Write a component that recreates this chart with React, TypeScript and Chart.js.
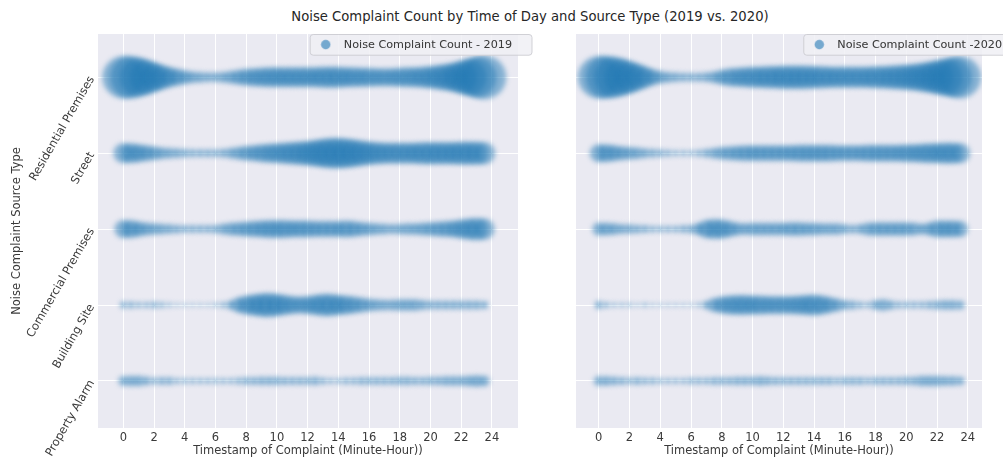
import React, { useEffect, useRef } from 'react';
import { Chart, registerables } from 'chart.js';

Chart.register(...registerables);

const TITLE = 'Noise Complaint Count by Time of Day and Source Type (2019 vs. 2020)';
const X_LABEL = 'Timestamp of Complaint (Minute-Hour))';
const Y_LABEL = 'Noise Complaint Source Type';
const LABEL_2019 = 'Noise Complaint Count - 2019';
const LABEL_2020 = 'Noise Complaint Count -2020';

const CATEGORIES = ['Residential Premises', 'Street', 'Commercial Premises', 'Building Site', 'Property Alarm'];
const X_TICKS = [0, 2, 4, 6, 8, 10, 12, 14, 16, 18, 20, 22, 24];
const HOURS = [
  0, 0.5, 1, 1.5, 2, 2.5, 3, 3.5, 4, 4.5, 5, 5.5, 6, 6.5, 7, 7.5,
  8, 8.5, 9, 9.5, 10, 10.5, 11, 11.5, 12, 12.5, 13, 13.5, 14, 14.5, 15, 15.5,
  16, 16.5, 17, 17.5, 18, 18.5, 19, 19.5, 20, 20.5, 21, 21.5, 22, 22.5, 23, 23.5,
];

// complaint counts per half hour (2019)
const RESIDENTIAL_2019 = [441, 441, 361, 289, 196, 144, 100, 72, 49, 36, 30, 25, 25, 30, 42, 56, 72, 81, 90, 100, 100, 100, 100, 100, 100, 100, 110, 110, 110, 100, 100, 90, 90, 81, 81, 81, 90, 100, 100, 110, 121, 144, 169, 196, 256, 324, 400, 484];
const STREET_2019 = [100, 100, 81, 64, 49, 36, 30, 25, 20, 16, 16, 16, 16, 20, 30, 42, 56, 64, 81, 90, 100, 110, 121, 132, 144, 169, 196, 225, 225, 210, 182, 156, 132, 121, 110, 110, 110, 110, 110, 121, 121, 121, 121, 121, 132, 132, 132, 121];
const COMMERCIAL_2019 = [81, 81, 56, 42, 36, 30, 25, 20, 16, 16, 16, 16, 20, 30, 42, 49, 56, 64, 72, 81, 81, 81, 72, 72, 72, 64, 64, 64, 64, 72, 64, 49, 42, 36, 30, 25, 30, 36, 36, 42, 49, 56, 64, 72, 90, 110, 121, 110];
const BUILDING_2019 = [12, 12, 9, 9, 12, 9, 6, 4, 4, 4, 4, 4, 6, 9, 20, 56, 90, 110, 132, 144, 121, 100, 81, 72, 81, 100, 121, 121, 100, 90, 72, 56, 42, 36, 30, 30, 36, 36, 36, 25, 20, 20, 20, 20, 20, 20, 20, 16];
const ALARM_2019 = [25, 30, 30, 20, 12, 16, 16, 9, 9, 9, 9, 9, 9, 9, 9, 12, 16, 16, 20, 20, 20, 16, 16, 16, 16, 20, 12, 9, 9, 12, 12, 16, 16, 16, 16, 16, 20, 20, 16, 16, 20, 20, 25, 25, 25, 30, 36, 30];

// complaint counts per half hour (2020)
const RESIDENTIAL_2020 = [441, 441, 400, 324, 240, 169, 110, 64, 42, 30, 25, 20, 20, 20, 25, 36, 56, 81, 90, 100, 110, 110, 121, 121, 132, 132, 132, 132, 121, 121, 110, 110, 110, 110, 110, 110, 121, 121, 132, 144, 156, 169, 196, 225, 272, 324, 380, 441];
const STREET_2020 = [81, 81, 64, 49, 42, 36, 25, 20, 16, 12, 9, 9, 9, 12, 20, 30, 42, 49, 56, 64, 64, 64, 64, 64, 64, 64, 72, 72, 72, 72, 72, 64, 64, 64, 64, 72, 72, 72, 72, 72, 81, 81, 90, 100, 100, 110, 110, 100];
const COMMERCIAL_2020 = [42, 42, 36, 25, 25, 20, 16, 12, 12, 12, 12, 16, 20, 36, 81, 100, 90, 64, 42, 36, 42, 42, 42, 42, 42, 49, 49, 42, 42, 36, 36, 36, 25, 20, 25, 42, 49, 49, 49, 49, 49, 42, 30, 42, 72, 72, 72, 64];
const BUILDING_2020 = [16, 9, 6, 6, 6, 4, 6, 4, 4, 4, 4, 4, 4, 6, 16, 49, 72, 90, 100, 100, 90, 90, 81, 81, 81, 81, 90, 100, 110, 90, 64, 42, 25, 20, 12, 9, 25, 36, 20, 12, 12, 12, 12, 16, 20, 25, 25, 20];
const ALARM_2020 = [25, 25, 20, 16, 12, 16, 12, 12, 9, 9, 9, 9, 12, 12, 12, 16, 16, 16, 20, 20, 20, 25, 20, 16, 16, 16, 16, 16, 16, 16, 16, 12, 16, 16, 16, 12, 16, 16, 16, 16, 20, 20, 30, 30, 30, 25, 25, 20];

const SERIES_2019 = [RESIDENTIAL_2019, STREET_2019, COMMERCIAL_2019, BUILDING_2019, ALARM_2019];
const SERIES_2020 = [RESIDENTIAL_2020, STREET_2020, COMMERCIAL_2020, BUILDING_2020, ALARM_2020];

const FONT = 'DejaVu Sans';
const FS = 11.5;
const LEGEND_FS = 11.2;
const BUBBLE_FILL = 'rgba(31,119,180,0.5)';
const TEXT = '#3a3a3a';

function makeMarker() {
  const c = document.createElement('canvas');
  c.width = 11;
  c.height = 11;
  const g = c.getContext('2d')!;
  g.fillStyle = 'rgba(31,119,180,0.55)';
  g.beginPath();
  g.arc(5.5, 5.5, 4.7, 0, Math.PI * 2);
  g.fill();
  return c;
}

function zeroPad(s: any) {
  s.paddingTop = 0;
  s.paddingBottom = 0;
  s.paddingLeft = 0;
  s.paddingRight = 0;
}

type PanelProps = {
  series: number[][];
  label: string;
  left: number;
  width: number;
  yWidth: number;
  xMin: number;
  xMax: number;
  showY: boolean;
  padRight: number;
  legendTextEnd: number;
};

function Panel({ series, label, left, width, yWidth, xMin, xMax, showY, padRight, legendTextEnd }: PanelProps) {
  const ref = useRef<HTMLCanvasElement>(null);
  useEffect(() => {
    const points: { x: number; y: number; r: number }[] = [];
    series.forEach((counts, ci) => {
      counts.forEach((c, i) => points.push({ x: HOURS[i], y: ci, r: Math.sqrt(c) }));
    });
    const marker = makeMarker();
    const LEG_PAD = 5;
    const panelPlugin = {
      id: 'panelStyle',
      beforeDraw(chart: any) {
        const { ctx, chartArea: a } = chart;
        ctx.save();
        ctx.fillStyle = '#EAEAF2';
        ctx.fillRect(a.left, a.top, a.right - a.left, a.bottom - a.top);
        ctx.restore();
      },
      afterLayout(chart: any) {
        const lg = chart.legend;
        const a = chart.chartArea;
        if (lg && lg.columnSizes && lg.columnSizes.length) {
          const w = lg.columnSizes[0].width;
          lg.top = a.top;
          lg.bottom = a.bottom;
          lg.left = legendTextEnd - w - LEG_PAD;
          lg.right = chart.width + 20;
        }
      },
      beforeDatasetsDraw(chart: any) {
        chart.ctx.save();
        chart.ctx.filter = 'blur(2.4px)';
      },
      afterDatasetsDraw(chart: any) {
        const ctx = chart.ctx;
        ctx.restore();
        const lg = chart.legend;
        if (!lg || !lg.legendHitBoxes || !lg.legendHitBoxes.length) return;
        const h = lg.legendHitBoxes[0];
        const x0 = h.left - 3;
        const y0 = h.top - 4.5;
        const x1 = h.left + h.width + 20;
        const y1 = h.top + h.height + 5;
        ctx.save();
        ctx.beginPath();
        ctx.roundRect(x0, y0, x1 - x0, y1 - y0, 3);
        ctx.fillStyle = 'rgba(240,240,245,0.85)';
        ctx.fill();
        ctx.strokeStyle = 'rgba(204,204,210,0.9)';
        ctx.lineWidth = 1;
        ctx.stroke();
        ctx.restore();
        lg.draw();
      },
    };
    const chart = new Chart(ref.current!, {
      type: 'bubble',
      data: {
        datasets: [
          {
            label,
            data: points,
            backgroundColor: BUBBLE_FILL,
            borderWidth: 0,
            hoverBorderWidth: 0,
          } as any,
        ],
      },
      options: {
        responsive: false,
        animation: false,
        events: [],
        layout: { padding: { top: 34, right: padRight, bottom: 0, left: 0 } },
        scales: {
          x: {
            type: 'linear',
            min: xMin,
            max: xMax,
            afterBuildTicks: (s: any) => {
              s.ticks = X_TICKS.map((v) => ({ value: v }));
            },
            afterFit: (s: any) => {
              s.height = 32;
              zeroPad(s);
            },
            grid: { color: '#ffffff', lineWidth: 1, drawTicks: false },
            border: { display: false },
            ticks: { font: { family: FONT, size: FS }, color: TEXT, padding: 3, maxRotation: 0, autoSkip: false },
            title: {
              display: true,
              text: X_LABEL,
              font: { family: FONT, size: FS },
              color: TEXT,
              padding: { top: 0, bottom: 2 },
            },
          },
          y: {
            type: 'linear',
            reverse: true,
            min: -0.57,
            max: 4.62,
            afterBuildTicks: (s: any) => {
              s.ticks = CATEGORIES.map((_, i) => ({ value: i }));
            },
            afterFit: (s: any) => {
              s.width = yWidth;
              zeroPad(s);
            },
            grid: { color: '#ffffff', lineWidth: 1, drawTicks: false },
            border: { display: false },
            ticks: {
              display: showY,
              autoSkip: false,
              minRotation: 60,
              maxRotation: 60,
              padding: 6,
              font: { family: FONT, size: FS },
              color: TEXT,
              callback: (v: any) => CATEGORIES[v as number] ?? '',
            },
            title: {
              display: showY,
              text: Y_LABEL,
              font: { family: FONT, size: FS },
              color: TEXT,
              padding: { top: 10, bottom: 0 },
            },
          },
        },
        plugins: {
          legend: {
            position: 'chartArea',
            align: 'start',
            labels: {
              usePointStyle: true,
              pointStyle: marker as any,
              pointStyleWidth: 25,
              padding: LEG_PAD,
              font: { family: FONT, size: LEGEND_FS },
              color: TEXT,
            },
          },
          tooltip: { enabled: false },
        },
      } as any,
      plugins: [panelPlugin],
    });
    return () => chart.destroy();
  }, []);
  return <canvas ref={ref} width={width} height={460} style={{ position: 'absolute', left, top: 0 }} />;
}

export default function App() {
  return (
    <div style={{ position: 'absolute', left: 0, top: 0, width: 1003, height: 460, overflow: 'hidden', background: '#fff' }}>
      <div
        style={{
          position: 'absolute',
          left: 530,
          top: 8,
          transform: 'translateX(-50%)',
          whiteSpace: 'nowrap',
          fontFamily: FONT,
          fontSize: 13.2,
          lineHeight: '18px',
          color: '#262626',
        }}
      >
        {TITLE}
      </div>
      <Panel series={SERIES_2019} label={LABEL_2019} left={0} width={540} yWidth={98} xMin={-1.65} xMax={25.7} showY={true} padRight={2} legendTextEnd={512} />
      <Panel series={SERIES_2020} label={LABEL_2020} left={548} width={455} yWidth={28} xMin={-1.48} xMax={24.92} showY={false} padRight={0} legendTextEnd={454} />
    </div>
  );
}
